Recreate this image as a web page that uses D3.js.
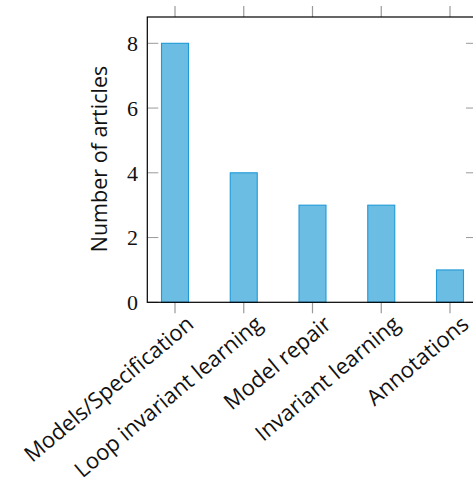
<!DOCTYPE html>
<html><head><meta charset="utf-8">
<script src="https://cdn.jsdelivr.net/npm/d3@7"></script>
<style>body{margin:0;background:#fff}svg{display:block}</style>
</head><body>
<svg id="c" width="473" height="480"></svg>
<script>
const categories = ["Models/Specification","Loop invariant learning","Model repair","Invariant learning","Annotations"];
const values = [8,4,3,3,1];
const yTicks = [0,2,4,6,8];
const yLabel = "Number of articles";

const svg = d3.select("#c");
const L = 147.3, R = 477, T = 17, B = 302.3;
const x = d3.scalePoint().domain(categories).range([175, 450]);
const y = d3.scaleLinear().domain([0, 8]).range([B, 43.3]);
const bw = 27;

const tickCol = "#9a9a9a";
svg.append("g").selectAll("line").data(yTicks).join("line")
  .attr("x1", L).attr("x2", L + 11).attr("y1", d => y(d)).attr("y2", d => y(d))
  .attr("stroke", tickCol).attr("stroke-width", 1);
svg.append("g").selectAll("line").data(yTicks).join("line")
  .attr("x1", R - 11).attr("x2", R).attr("y1", d => y(d)).attr("y2", d => y(d))
  .attr("stroke", tickCol).attr("stroke-width", 1);
svg.append("g").selectAll("line").data(categories).join("line")
  .attr("x1", d => x(d)).attr("x2", d => x(d)).attr("y1", B).attr("y2", B + 11)
  .attr("stroke", tickCol).attr("stroke-width", 1.2);
svg.append("g").selectAll("line").data(categories).join("line")
  .attr("x1", d => x(d)).attr("x2", d => x(d)).attr("y1", T).attr("y2", T - 11)
  .attr("stroke", tickCol).attr("stroke-width", 1.2);

svg.append("g").selectAll("rect").data(values).join("rect")
  .attr("x", (d, i) => x(categories[i]) - bw / 2)
  .attr("y", d => y(d))
  .attr("width", bw)
  .attr("height", d => B - y(d))
  .attr("fill", "#6bbde4")
  .attr("stroke", "#1e9ad8")
  .attr("stroke-width", 1.1);

svg.append("rect").attr("x", L).attr("y", T).attr("width", R - L).attr("height", B - T)
  .attr("fill", "none").attr("stroke", "#000").attr("stroke-width", 1.2);

svg.append("g").selectAll("text").data(yTicks).join("text")
  .attr("x", 138).attr("y", d => y(d)).attr("dy", "0.36em")
  .attr("text-anchor", "end")
  .attr("font-family", "'Liberation Serif', 'DejaVu Serif', serif")
  .attr("font-size", 22).attr("fill", "#111")
  .text(d => d);

svg.append("g").selectAll("text").data(categories).join("text")
  .attr("transform", d => `translate(${x(d) + 10},${B + 12}) rotate(-40)`)
  .attr("text-anchor", "end").attr("dy", "0.72em")
  .attr("font-family", "'Open Sans', Lato, sans-serif")
  .attr("font-size", 22).attr("fill", "#111")
  .text(d => d);

svg.append("text")
  .attr("transform", `translate(107,159) rotate(-90)`)
  .attr("text-anchor", "middle")
  .attr("font-family", "'Open Sans', Lato, sans-serif")
  .attr("font-size", 21.5).attr("fill", "#111")
  .text(yLabel);
</script>
</body></html>
